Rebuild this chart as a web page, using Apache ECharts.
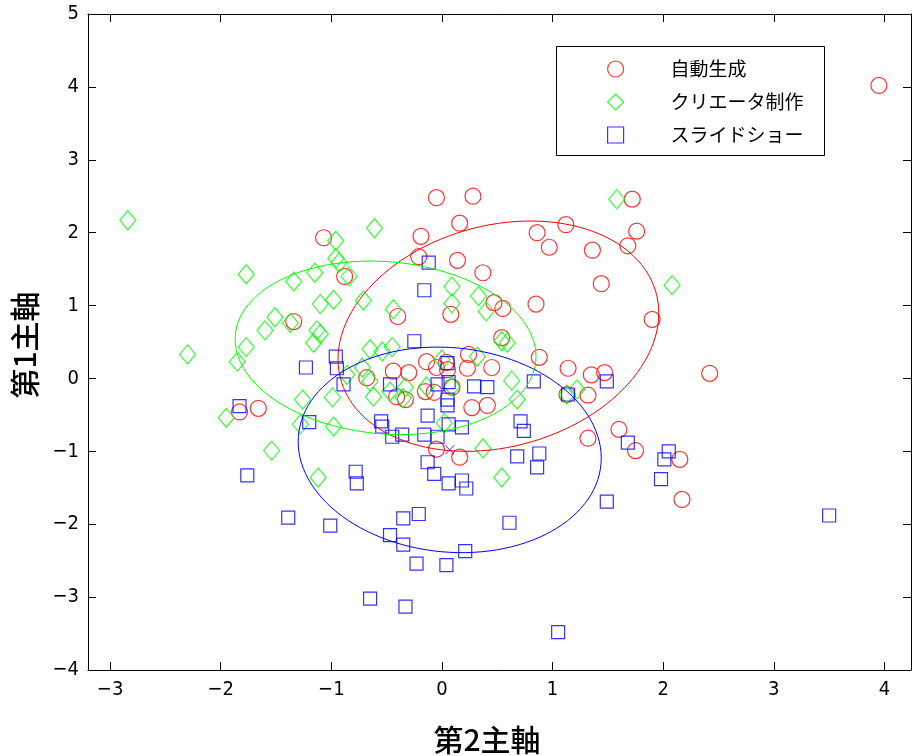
<!DOCTYPE html>
<html>
<head>
<meta charset="utf-8">
<script src="https://cdn.jsdelivr.net/npm/echarts@6/dist/echarts.min.js"></script>
<style>
html, body { margin: 0; padding: 0; background: #fff; }
#chart { width: 913px; height: 756px; }
</style>
</head>
<body>
<div id="chart"></div>
<script>
// Principal component scores (第2主軸, 第1主軸) for the three groups
const groupNames = ['自動生成', 'クリエータ制作', 'スライドショー'];

const autoPoints = [
  [3.95, 4.02], [-0.05, 2.48], [0.28, 2.50], [-1.07, 1.93], [0.16, 2.13], [-0.19, 1.95],
  [-0.21, 1.67], [0.14, 1.62], [0.37, 1.45], [-0.88, 1.40], [-1.34, 0.78], [-0.40, 0.85],
  [0.08, 0.88], [1.12, 2.11], [0.86, 2.00], [0.97, 1.80], [1.36, 1.76], [1.72, 2.46],
  [1.76, 2.02], [1.68, 1.82], [1.44, 1.30], [0.47, 1.04], [0.55, 0.96], [0.85, 1.02],
  [1.90, 0.81], [0.54, 0.56], [0.88, 0.29], [0.45, 0.15], [1.14, 0.14], [1.35, 0.05],
  [1.47, 0.08], [1.13, -0.22], [1.32, -0.23], [0.41, -0.37], [0.27, -0.40], [1.60, -0.70],
  [1.32, -0.82], [1.75, -0.99], [2.42, 0.07], [2.15, -1.11], [2.17, -1.66], [-1.83, -0.46],
  [-1.66, -0.41], [-0.68, 0.01], [-0.44, 0.10], [-0.30, 0.08], [-0.14, 0.23], [-0.05, 0.15],
  [0.04, 0.22], [0.05, 0.12], [0.24, 0.33], [0.23, 0.14], [0.09, -0.12], [-0.15, -0.18],
  [-0.07, -0.19], [-0.41, -0.25], [-0.33, -0.29], [-0.05, -0.97], [0.16, -1.08]
];

const creatorPoints = [
  [-2.84, 2.17], [-1.77, 1.43], [-1.51, 0.84], [-1.60, 0.66], [-0.61, 2.06], [-0.96, 1.89],
  [-0.96, 1.65], [-0.93, 1.59], [-0.84, 1.40], [-1.15, 1.45], [-1.34, 1.33], [-0.71, 1.07],
  [-0.98, 1.08], [-1.10, 1.02], [-0.44, 0.95], [0.09, 1.26], [0.09, 1.03], [0.33, 1.13],
  [0.40, 0.92], [-1.37, 0.76], [-1.13, 0.66], [-1.10, 0.61], [-1.16, 0.49], [-2.30, 0.33],
  [-1.77, 0.43], [-1.85, 0.23], [-1.95, -0.54], [-1.54, -0.99], [-0.65, 0.40], [-0.54, 0.37],
  [-0.45, 0.43], [-0.86, 0.05], [-0.72, 0.15], [-0.65, -0.04], [-0.62, -0.25], [-0.47, -0.18],
  [-0.33, -0.12], [-0.35, -0.27], [-0.14, -0.11], [0.00, 0.26], [0.09, -0.11], [0.02, -0.61],
  [0.32, 0.30], [-0.99, -0.26], [-1.26, -0.29], [-1.28, -0.63], [-0.98, -0.66], [-1.12, -1.36],
  [0.37, -0.96], [0.54, 0.51], [0.59, 0.49], [0.63, -0.03], [0.68, -0.29], [1.13, -0.22],
  [1.22, -0.15], [0.54, -1.36], [1.58, 2.46], [2.08, 1.28]
];

const slidePoints = [
  [-0.12, 1.59], [-0.16, 1.21], [-1.83, -0.38], [-1.76, -1.33], [-0.25, 0.51], [-0.96, 0.30],
  [-0.95, 0.14], [-1.23, 0.15], [-0.89, -0.08], [-0.47, -0.08], [0.05, 0.21], [-0.04, -0.08],
  [0.06, -0.05], [0.05, -0.29], [0.05, -0.37], [-0.13, -0.51], [0.06, -0.63], [0.18, -0.67],
  [0.29, -0.11], [-1.20, -0.60], [-0.55, -0.59], [-0.54, -0.66], [-0.45, -0.80], [-0.36, -0.77],
  [-0.16, -0.77], [-0.04, -0.80], [-0.13, -1.15], [-0.78, -1.28], [0.41, -0.12], [0.83, -0.04],
  [1.14, -0.22], [1.49, -0.04], [0.71, -0.59], [0.74, -0.72], [0.68, -1.07], [0.88, -1.03],
  [0.86, -1.22], [1.68, -0.88], [2.05, -1.00], [2.01, -1.11], [1.98, -1.38], [-1.39, -1.91],
  [-1.01, -2.02], [-0.77, -1.44], [-0.65, -3.02], [-0.47, -2.15], [-0.07, -1.31], [0.06, -1.44],
  [0.18, -1.40], [0.22, -1.51], [-0.35, -1.92], [-0.21, -1.86], [-0.35, -2.28], [-0.23, -2.54],
  [0.04, -2.56], [0.21, -2.37], [0.61, -1.98], [1.49, -1.69], [-0.33, -3.13], [1.05, -3.48],
  [3.50, -1.88]
];

// Group centre marked with a cross
const slideCentre = [[0.07, -0.98]];

// Spread ellipses: [centre x, centre y, x radius, y radius, correlation]
const autoEllipse = [0.51, 0.58, 1.45, 1.58, 0.2];
const creatorEllipse = [-0.51, 0.42, 1.36, 1.19, -0.1];
const slideEllipse = [0.07, -0.98, 1.37, 1.41, -0.08];

// Axis ranges and tick marks
const xRange = [-3.20, 4.24];
const yRange = [-4, 5];
const xTicks = [-3, -2, -1, 0, 1, 2, 3, 4];
const yTicks = [-4, -3, -2, -1, 0, 1, 2, 3, 4, 5];

const RED = '#ff0000', GREEN = '#00ff00', BLUE = '#0000ff';
const numFont = "'Liberation Sans Narrow', 'DejaVu Sans Condensed', 'Noto Sans CJK JP', sans-serif";
const jpFont = "'Noto Sans CJK JP', sans-serif";

const fmt = v => String(v).replace('-', '\u2212');

function ellipseSeries(params, color) {
  return {
    type: 'custom',
    silent: true,
    z: 3,
    data: [params],
    encode: { x: 0, y: 1 },
    renderItem: function (p, api) {
      const cx = api.value(0), cy = api.value(1);
      const rx = api.value(2), ry = api.value(3), rho = api.value(4);
      const s = Math.sqrt(1 - rho * rho);
      const pts = [];
      const n = 120;
      for (let k = 0; k <= n; k++) {
        const t = 2 * Math.PI * k / n;
        pts.push(api.coord([
          cx + rx * Math.cos(t),
          cy + ry * (rho * Math.cos(t) + s * Math.sin(t))
        ]));
      }
      return {
        type: 'polyline',
        shape: { points: pts },
        style: { stroke: color, fill: null, lineWidth: 1 }
      };
    }
  };
}

function frameXAxis(pos, withLabels) {
  return {
    type: 'value', position: pos, min: xRange[0], max: xRange[1],
    axisLine: { show: true, onZero: false, lineStyle: { color: '#000', width: 1 } },
    axisTick: { show: true, inside: true, length: 8, customValues: xTicks, lineStyle: { color: '#000' } },
    axisLabel: {
      show: withLabels, customValues: xTicks, formatter: fmt,
      color: '#000', fontSize: 20, fontFamily: numFont, margin: 10
    },
    splitLine: { show: false }
  };
}

function frameYAxis(pos, withLabels) {
  return {
    type: 'value', position: pos, min: yRange[0], max: yRange[1], interval: 1,
    axisLine: { show: true, onZero: false, lineStyle: { color: '#000', width: 1 } },
    axisTick: { show: true, inside: true, length: 8, customValues: yTicks, lineStyle: { color: '#000' } },
    axisLabel: {
      show: withLabels, customValues: yTicks, formatter: fmt,
      color: '#000', fontSize: 20, fontFamily: numFont, margin: 9
    },
    splitLine: { show: false }
  };
}

const chart = echarts.init(document.getElementById('chart'), null, { renderer: 'canvas' });

chart.setOption({
  animation: false,
  backgroundColor: '#fff',
  grid: { left: 88, right: 2, top: 14, bottom: 86, containLabel: false },
  xAxis: [frameXAxis('bottom', true), frameXAxis('top', false)],
  yAxis: [frameYAxis('left', true), frameYAxis('right', false)],
  legend: {
    orient: 'vertical',
    left: 607,
    top: 59,
    padding: 0,
    itemWidth: 16,
    itemHeight: 16,
    itemGap: 13,
    z: 5,
    selectedMode: false,
    textStyle: { color: '#000', fontSize: 19, fontFamily: jpFont, lineHeight: 20, padding: [0, 0, 0, 42] },
    data: [
      { name: groupNames[0], icon: 'circle', itemStyle: { color: 'rgba(0,0,0,0)', borderColor: RED, borderWidth: 1.2 } },
      { name: groupNames[1], icon: 'diamond', itemStyle: { color: 'rgba(0,0,0,0)', borderColor: GREEN, borderWidth: 1.2 } },
      { name: groupNames[2], icon: 'rect', itemStyle: { color: 'rgba(0,0,0,0)', borderColor: BLUE, borderWidth: 1.2 } }
    ]
  },
  graphic: [
    {
      type: 'rect', z: 4,
      shape: { x: 556.5, y: 46.5, width: 268, height: 109 },
      style: { fill: '#fff', stroke: '#000', lineWidth: 1 }
    },
    {
      type: 'text', x: 487, y: 740,
      style: { text: '第2主軸', font: "500 30px 'Noto Sans CJK JP', sans-serif", fill: '#000', align: 'center', verticalAlign: 'middle' }
    },
    {
      type: 'text', x: 25, y: 345, rotation: Math.PI / 2,
      style: { text: '第1主軸', font: "500 30px 'Noto Sans CJK JP', sans-serif", fill: '#000', align: 'center', verticalAlign: 'middle' }
    }
  ],
  series: [
    {
      name: groupNames[0], type: 'scatter', data: autoPoints,
      symbol: 'circle', symbolSize: 16,
      itemStyle: { color: 'rgba(0,0,0,0)', borderColor: RED, borderWidth: 1.2 },
      emphasis: { disabled: true }
    },
    {
      name: groupNames[1], type: 'scatter', data: creatorPoints,
      symbol: 'diamond', symbolSize: [16, 19],
      itemStyle: { color: 'rgba(0,0,0,0)', borderColor: GREEN, borderWidth: 1.2 },
      emphasis: { disabled: true }
    },
    {
      name: groupNames[2], type: 'scatter', data: slidePoints,
      symbol: 'rect', symbolSize: 13,
      itemStyle: { color: 'rgba(0,0,0,0)', borderColor: BLUE, borderWidth: 1.2 },
      emphasis: { disabled: true }
    },
    ellipseSeries(autoEllipse, RED),
    ellipseSeries(creatorEllipse, GREEN),
    ellipseSeries(slideEllipse, BLUE),
    {
      name: 'centre', type: 'scatter', data: slideCentre,
      symbol: 'path://M0,0L10,10M10,0L0,10', symbolSize: 9,
      itemStyle: { color: 'rgba(0,0,0,0)', borderColor: BLUE, borderWidth: 1 },
      emphasis: { disabled: true }
    }
  ]
});
</script>
</body>
</html>
